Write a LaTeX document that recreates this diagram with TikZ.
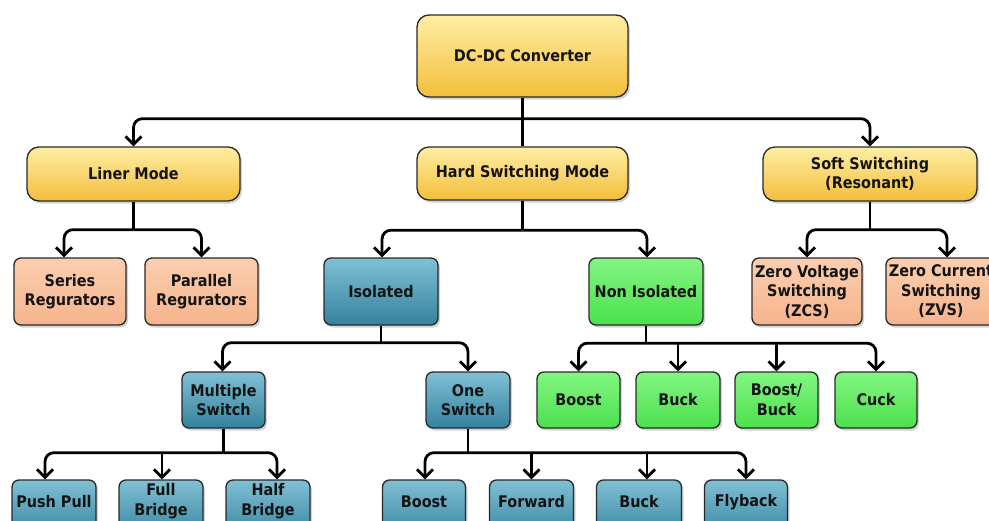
\documentclass[tikz,border=0pt]{standalone}
\usepackage{fontspec}
\setmainfont{DejaVu Sans Condensed}
\usetikzlibrary{arrows.meta,shadows,calc}

\definecolor{yelTop}{RGB}{255,238,165}
\definecolor{yelBot}{RGB}{243,190,58}
\definecolor{orgTop}{RGB}{251,206,176}
\definecolor{orgBot}{RGB}{246,180,140}
\definecolor{bluTop}{RGB}{128,192,212}
\definecolor{bluBot}{RGB}{52,130,158}
\definecolor{grnTop}{RGB}{130,246,130}
\definecolor{grnBot}{RGB}{76,224,76}
\definecolor{edge}{RGB}{40,40,40}
\definecolor{ink}{RGB}{20,20,20}

\tikzset{
  box/.style={draw=edge, line width=1.3pt, rounded corners=7pt, align=center,
    font=\bfseries\fontsize{16}{19.5}\selectfont, text=ink, inner sep=2pt,
    drop shadow={opacity=0.35, shadow xshift=2pt, shadow yshift=-2.5pt}},
  yelbox/.style={box, top color=yelTop, bottom color=yelBot, rounded corners=12pt},
  orgbox/.style={box, top color=orgTop, bottom color=orgBot},
  blubox/.style={box, top color=bluTop, bottom color=bluBot},
  grnbox/.style={box, top color=grnTop, bottom color=grnBot},
  wire/.style={line width=2.8pt, black, rounded corners=9pt},
  arr/.style={wire, -{Straight Barb[length=8pt,width=16pt]}},
  inner/.style={font=\bfseries\fontsize{16}{19.5}\selectfont, text=ink, align=center}
}

\begin{document}
\begin{tikzpicture}[x=1pt,y=-1pt]
\useasboundingbox (0,0) rectangle (989,520);

% ---- level 0 and 1
\node[yelbox, minimum width=211pt, minimum height=82pt] (dc) at (522.5,56) {DC-DC Converter};
\node[yelbox, minimum width=213pt, minimum height=54pt] (liner) at (133.5,174) {Liner Mode};
\node[yelbox, minimum width=211pt, minimum height=53pt] (hard) at (522.5,173.5) {Hard Switching Mode};
\node[yelbox, minimum width=214pt, minimum height=54pt] (soft) at (870,174) {Soft Switching\\(Resonant)};

% ---- level 2
\node[orgbox, minimum width=112pt, minimum height=67pt] (ser) at (70,291.5) {Series\\Regurators};
\node[orgbox, minimum width=113pt, minimum height=67pt] (par) at (201.5,291.5) {Parallel\\Regurators};
\node[blubox, minimum width=114pt, minimum height=67pt] (iso) at (381,291.5) {Isolated};
\node[grnbox, minimum width=114pt, minimum height=67pt] (non) at (646,291.5) {Non Isolated};
\node[orgbox, minimum width=110pt, minimum height=67pt] (zv) at (807,291.5) {Zero Voltage\\Switching\\(ZCS)};
\node[orgbox, minimum width=110pt, minimum height=67pt] (zc) at (941,291.5) {Zero Current\\Switching\\(ZVS)};

% ---- level 3
\node[blubox, minimum width=83pt, minimum height=56pt] (ms) at (223.5,400) {Multiple\\Switch};
\node[blubox, minimum width=84pt, minimum height=56pt] (os) at (468,400) {One\\Switch};
\node[grnbox, minimum width=83pt, minimum height=56pt] (nboost) at (578.5,400) {Boost};
\node[grnbox, minimum width=84pt, minimum height=56pt] (nbuck) at (678,400) {Buck};
\node[grnbox, minimum width=83pt, minimum height=56pt] (nbb) at (776.5,400) {Boost/\\Buck};
\node[grnbox, minimum width=82pt, minimum height=56pt] (ncuck) at (876,400) {Cuck};

% ---- level 4 (boxes run past the lower edge)
\node[blubox, minimum width=84pt, minimum height=60pt] (pp) at (54,510) {};
\node[blubox, minimum width=84pt, minimum height=60pt] (fb) at (161,510) {};
\node[blubox, minimum width=84pt, minimum height=60pt] (hb) at (268,510) {};
\node[blubox, minimum width=83pt, minimum height=60pt] (iboost) at (424,510) {};
\node[blubox, minimum width=84pt, minimum height=60pt] (ifwd) at (531.5,510) {};
\node[blubox, minimum width=85pt, minimum height=60pt] (ibuck) at (639,510) {};
\node[blubox, minimum width=83pt, minimum height=60pt] (ifly) at (746,510) {};
\node[inner] (tpp) at (54,502) {Push Pull};
\node[inner] (tfb) at (161,501) {Full\\Bridge};
\node[inner] (thb) at (268,501) {Half\\Bridge};
\node[inner] (tib) at (424,502) {Boost};
\node[inner] (tif) at (531.5,502) {Forward};
\node[inner] (tik) at (639,502) {Buck};
\node[inner] (til) at (746,502) {Flyback};

% ---- connectors
\draw[wire] (dc.south) -- (hard.north);
\draw[wire] (dc.south) -- ++(0,21) coordinate (j0);
\draw[arr] (j0) -| (liner.north);
\draw[arr] (j0) -| (soft.north);

\draw[wire] (liner.south) -- ++(0,28) coordinate (j1);
\draw[arr] (j1) -| ([xshift=-6pt]ser.north);
\draw[arr] (j1) -| (par.north);

\draw[wire] (hard.south) -- ++(0,29.5) coordinate (j2);
\draw[arr] (j2) -| ([xshift=1pt]iso.north);
\draw[arr] (j2) -| ([xshift=1pt]non.north);

\draw[wire] (soft.south) -- ++(0,28) coordinate (j3);
\draw[arr] (j3) -| (zv.north);
\draw[arr] (j3) -| ([xshift=6pt]zc.north);

\draw[wire] (iso.south) -- ++(0,17) coordinate (j4);
\draw[arr] (j4) -| ([xshift=-1pt]ms.north);
\draw[arr] (j4) -| (os.north);

\draw[wire] (non.south) -- ++(0,17.5) coordinate (j5);
\draw[arr] (j5) -| (nboost.north);
\draw[arr] (j5) -| (ncuck.north);
\draw[arr] (nbuck.north |- j5) -- (nbuck.north);
\draw[arr] (nbb.north |- j5) -- (nbb.north);

\draw[wire] (ms.south) -- ++(0,24) coordinate (j6);
\draw[arr] (j6) -| ([xshift=-9pt]pp.north);
\draw[arr] (j6) -| ([xshift=9pt]hb.north);
\draw[arr] ([xshift=1pt]fb.north |- j6) -- ([xshift=1pt]fb.north);

\draw[wire] (os.south) -- ++(0,24) coordinate (j7);
\draw[arr] (j7) -| ([xshift=1pt]iboost.north);
\draw[arr] (j7) -| (ifly.north);
\draw[arr] (ifwd.north |- j7) -- (ifwd.north);
\draw[arr] ([xshift=8pt]ibuck.north |- j7) -- ([xshift=8pt]ibuck.north);
\end{tikzpicture}
\end{document}
